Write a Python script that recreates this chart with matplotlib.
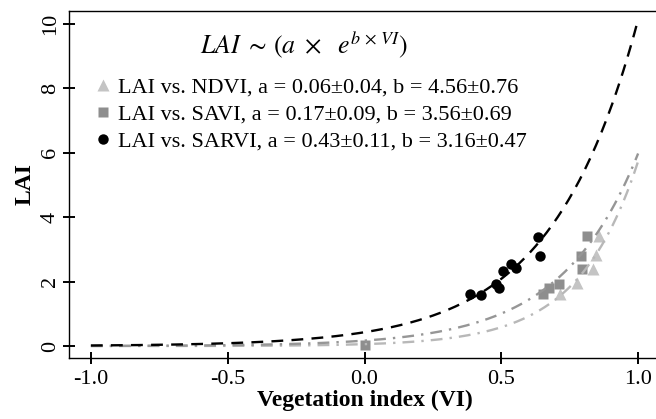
import numpy as np
import matplotlib.pyplot as plt

plt.rcParams["font.family"] = ["Liberation Serif", "DejaVu Serif"]
plt.rcParams["mathtext.fontset"] = "stix"
plt.rcParams["axes.unicode_minus"] = False

ndvi_x = [0.716, 0.778, 0.836, 0.846, 0.858]
ndvi_y = [1.63, 1.95, 2.39, 2.83, 3.43]
savi_x = [0.0, 0.653, 0.675, 0.712, 0.794, 0.790, 0.814]
savi_y = [0.03, 1.61, 1.79, 1.93, 2.39, 2.80, 3.43]
sarvi_x = [0.385, 0.424, 0.482, 0.492, 0.506, 0.535, 0.553, 0.635, 0.641]
sarvi_y = [1.61, 1.58, 1.92, 1.79, 2.33, 2.54, 2.41, 3.39, 2.80]

# fitted exponential model LAI = a * exp(b * VI)
names = ["NDVI", "SAVI", "SARVI"]
a_fit = [0.06, 0.17, 0.43]
a_err = [0.04, 0.09, 0.11]
b_fit = [4.56, 3.56, 3.16]
b_err = [0.76, 0.69, 0.47]

x_ticks = [-1.0, -0.5, 0.0, 0.5, 1.0]
y_ticks = [0, 2, 4, 6, 8, 10]

fig = plt.figure(figsize=(6.56, 4.19), dpi=100)
ax = fig.add_axes([69 / 656, 1 - 358 / 419, (660 - 69) / 656, (358 - 10.7) / 419])

labels = ["LAI vs. %s, a = %.2f\u00b1%.2f, b = %.2f\u00b1%.2f" % (n, a, ae, b, be)
          for n, a, ae, b, be in zip(names, a_fit, a_err, b_fit, b_err)]

h1, = ax.plot(ndvi_x, ndvi_y, "^", color="#c4c4c4", ms=8.5, mec="none", label=labels[0])
h2, = ax.plot(savi_x, savi_y, "s", color="#8e8e8e", ms=7.5, mec="none", label=labels[1])
h3, = ax.plot(sarvi_x, sarvi_y, "o", color="black", ms=7.5, mec="none", label=labels[2])

vi = np.linspace(-1, 1, 300)
ax.plot(vi, a_fit[0] * np.exp(b_fit[0] * vi), color="#b8b8b8", lw=1.7, dashes=(5, 3, 1, 3))
ax.plot(vi, a_fit[1] * np.exp(b_fit[1] * vi), color="#969696", lw=1.7, dashes=(5, 3, 1, 3))
ax.plot(vi, a_fit[2] * np.exp(b_fit[2] * vi), color="black", lw=1.7, dashes=(5, 3.5))

ax.set_xlim(-1.08, 1.08)
ax.set_ylim(-0.37, 10.41)
ax.set_xticks(x_ticks)
ax.set_xticklabels(["%.1f" % v for v in x_ticks])
ax.set_yticks(y_ticks)
ax.set_yticklabels([str(v) for v in y_ticks], rotation=90, va="center")
ax.tick_params(axis="both", direction="inout", length=9, width=1.4, labelsize=16)
ax.tick_params(axis="x", pad=4)
ax.tick_params(axis="y", pad=2)
for s in ["left", "bottom", "top"]:
    ax.spines[s].set_linewidth(1.0)
ax.spines["right"].set_visible(False)

ax.set_xlabel("Vegetation index (VI)", fontsize=17, fontweight="bold", labelpad=1)
ax.set_ylabel("LAI", fontsize=17, fontweight="bold", labelpad=4)

ax.text(0.222, 0.905, r"$LAI\ \sim\,(a\ \times\ \ e^{b\,\times\,VI})$", transform=ax.transAxes,
        fontsize=18.5, ha="left", va="center")

ax.legend(handles=[h1, h2, h3], loc="upper left", bbox_to_anchor=(0.032, 0.835),
          frameon=False, fontsize=16, handlelength=0.6, handletextpad=0.35,
          labelspacing=0.3, borderaxespad=0)

fig.savefig("out.png", dpi=100)
